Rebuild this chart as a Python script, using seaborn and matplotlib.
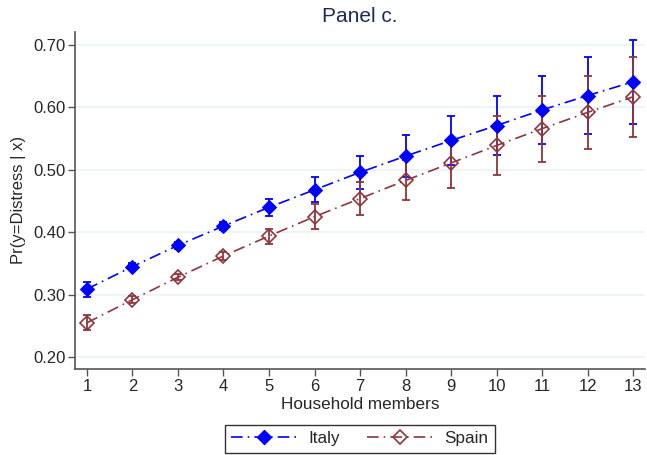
import numpy as np
import pandas as pd
import matplotlib
matplotlib.use("Agg")
import matplotlib.pyplot as plt
from matplotlib.lines import Line2D
import seaborn as sns

# === Data ===
members = [1, 2, 3, 4, 5, 6, 7, 8, 9, 10, 11, 12, 13]
italy = [0.309, 0.345, 0.379, 0.410, 0.440, 0.468, 0.496, 0.522, 0.547, 0.571, 0.596, 0.619, 0.641]
italy_err = [0.012, 0.006, 0.005, 0.007, 0.014, 0.020, 0.026, 0.034, 0.040, 0.047, 0.054, 0.061, 0.067]
spain = [0.255, 0.292, 0.328, 0.362, 0.394, 0.425, 0.454, 0.483, 0.511, 0.539, 0.566, 0.592, 0.617]
spain_err = [0.012, 0.006, 0.005, 0.007, 0.012, 0.020, 0.026, 0.032, 0.040, 0.047, 0.053, 0.059, 0.064]

blue = "#0000FF"
maroon = "#90353B"
dashdot = (0, (7, 3, 1, 3))

df = pd.DataFrame({
    "members": members * 2,
    "pr": italy + spain,
    "country": ["Italy"] * len(members) + ["Spain"] * len(members),
})

sns.set_style("white")
plt.rcParams["font.family"] = ["Liberation Sans", "DejaVu Sans"]

fig = plt.figure(figsize=(6.47, 4.55), dpi=100)
ax = fig.add_axes([0.116, 0.189, 0.881, 0.741])

# === Error bars ===
ax.errorbar(members, italy, yerr=italy_err, fmt="none", ecolor=blue,
            elinewidth=1.3, capsize=3.2, capthick=1.3, zorder=2)
ax.errorbar(members, spain, yerr=spain_err, fmt="none", ecolor=maroon,
            elinewidth=1.3, capsize=3.2, capthick=1.3, zorder=2)

# === Lines with markers ===
sns.lineplot(data=df[df["country"] == "Italy"], x="members", y="pr", ax=ax,
             color=blue, linestyle=dashdot, linewidth=1.2, marker="D",
             markersize=7, markeredgecolor=blue, markerfacecolor=blue, zorder=3)
sns.lineplot(data=df[df["country"] == "Spain"], x="members", y="pr", ax=ax,
             color=maroon, linestyle=dashdot, linewidth=1.2, marker="D",
             markersize=7, markeredgecolor=maroon, markerfacecolor="none",
             markeredgewidth=1.2, zorder=3)

# === Axes styling ===
ax.set_xlim(0.74, 13.26)
ax.set_ylim(0.181, 0.721)
ax.set_xticks(members)
ax.set_yticks([0.2, 0.3, 0.4, 0.5, 0.6, 0.7])
ax.set_yticklabels([f"{v:.2f}" for v in [0.2, 0.3, 0.4, 0.5, 0.6, 0.7]])
ax.yaxis.grid(True, color="#EAF2F3", linewidth=1.2)
ax.set_axisbelow(True)
for side in ["top", "right"]:
    ax.spines[side].set_visible(False)
for side in ["left", "bottom"]:
    ax.spines[side].set_color("#555555")
    ax.spines[side].set_linewidth(1.2)
ax.tick_params(axis="both", which="both", direction="out", length=5,
               width=1, color="#555555", labelsize=12, pad=2, left=True, bottom=True)
ax.set_xlabel("Household members", fontsize=12.3, labelpad=2)
ax.set_ylabel("Pr(y=Distress | x)", fontsize=12, labelpad=5)
ax.set_title("Panel c.", fontsize=15, color="#1C2A57", pad=7)

# === Legend ===
handles = [
    Line2D([], [], color=blue, linestyle=dashdot, linewidth=1.2, marker="D",
           markersize=7, markerfacecolor=blue, markeredgecolor=blue),
    Line2D([], [], color=maroon, linestyle=dashdot, linewidth=1.2, marker="D",
           markersize=7, markerfacecolor="none", markeredgecolor=maroon,
           markeredgewidth=1.2),
]
leg = fig.legend(handles, ["Italy", "Spain"], loc="lower center",
                 bbox_to_anchor=(0.556, 0.004), ncol=2, frameon=True,
                 fancybox=False, edgecolor="black", fontsize=12.3,
                 handlelength=3.8, handletextpad=0.7, columnspacing=1.6,
                 borderpad=0.4, borderaxespad=0.0)
leg.get_frame().set_linewidth(1.0)

fig.savefig("out.png", dpi=100, facecolor="white")
